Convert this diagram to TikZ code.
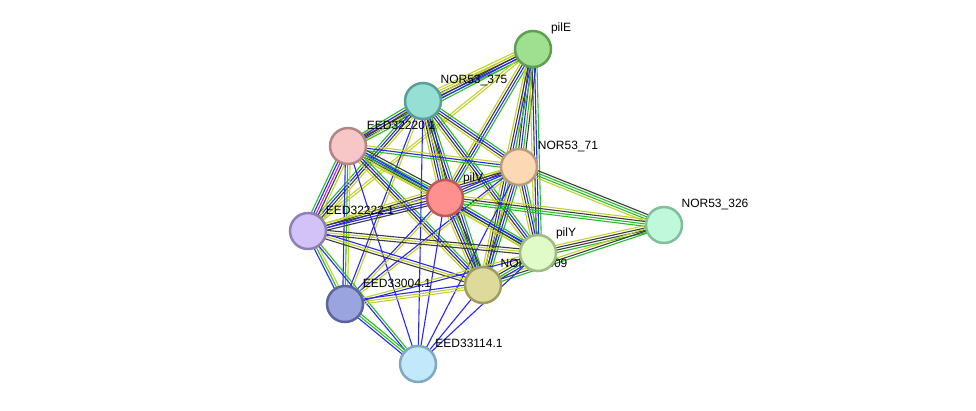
\documentclass[tikz,border=0pt]{standalone}
\usepackage{fontspec}
\setmainfont{Liberation Sans}
\usetikzlibrary{calc,backgrounds}
\definecolor{cgreen}{RGB}{40,190,40}
\definecolor{cblue}{RGB}{40,40,240}
\definecolor{cgray}{RGB}{60,60,60}
\definecolor{cyel}{RGB}{195,210,40}
\definecolor{cmag}{RGB}{210,30,210}
\tikzset{
  prot/.style={circle,minimum size=36pt,inner sep=0pt,line width=2.5pt},
  lbl/.style={font=\fontsize{12}{14}\selectfont,text=black,inner sep=0pt},
  ln/.style={line width=1.1pt}
}
\newcommand\edg[4]{%
  \foreach \cc [count=\ii] in {#4}{%
    \pgfmathsetmacro\off{(\ii-(#3+1)/2)*2.4}%
    \draw[ln,\cc] ($(#1)!\off pt!90:(#2)$) -- ($(#2)!\off pt!-90:(#1)$);
  }%
}
\begin{document}
\begin{tikzpicture}[x=1pt,y=-1pt]
\useasboundingbox (0,0) rectangle (976,410);
% nodes
\node[prot,draw={rgb,255:red,95;green,160;blue,80},fill={rgb,255:red,158;green,224;blue,144}] (A) at (533,49) {};
\node[lbl] (lA) at (561,28) {pilE};
\node[prot,draw={rgb,255:red,91;green,158;blue,152},fill={rgb,255:red,149;green,223;blue,213}] (B) at (423,101) {};
\node[lbl] (lB) at (474,80) {NOR53\_375};
\node[prot,draw={rgb,255:red,181;green,133;blue,133},fill={rgb,255:red,247;green,198;blue,198}] (C) at (348,146) {};
\node[lbl] (lC) at (401,125) {EED32220.1};
\node[prot,draw={rgb,255:red,184;green,156;blue,128},fill={rgb,255:red,253;green,216;blue,181}] (D) at (519,167) {};
\node[lbl] (lD) at (568,146) {NOR53\_71};
\node[prot,draw={rgb,255:red,192;green,88;blue,88},fill={rgb,255:red,255;green,144;blue,144}] (E) at (445,198) {};
\node[lbl] (lE) at (473,178) {pilV};
\node[prot,draw={rgb,255:red,142;green,128;blue,181},fill={rgb,255:red,210;green,194;blue,247}] (F) at (308,231) {};
\node[lbl] (lF) at (360,210) {EED32222.1};
\node[prot,draw={rgb,255:red,127;green,191;blue,154},fill={rgb,255:red,191;green,248;blue,218}] (G) at (664,225) {};
\node[lbl] (lG) at (715,204) {NOR53\_326};
\node[prot,draw={rgb,255:red,160;green,156;blue,92},fill={rgb,255:red,222;green,218;blue,156}] (I) at (483,285) {};
\node[lbl] (lI) at (534,264) {NOR53\_309};
\node[prot,draw={rgb,255:red,160;green,186;blue,136},fill={rgb,255:red,224;green,251;blue,200}] (H) at (538,253) {};
\node[lbl] (lH) at (566,233) {pilY};
\node[prot,draw={rgb,255:red,90;green,101;blue,159},fill={rgb,255:red,154;green,165;blue,224}] (J) at (345,304) {};
\node[lbl] (lJ) at (397,283) {EED33004.1};
\node[prot,draw={rgb,255:red,128;green,168;blue,192},fill={rgb,255:red,194;green,232;blue,251}] (K) at (418,364) {};
\node[lbl] (lK) at (469,343) {EED33114.1};
% edges
\begin{pgfonlayer}{background}
\fill[white] (0,0) rectangle (976,410);
\edg{A}{B}{5}{cyel,cyel,cgray,cblue,cgreen}
\edg{A}{C}{4}{cyel,cgray,cblue,cgreen}
\edg{A}{D}{5}{cyel,cgray,cblue,cgreen,cgray}
\edg{A}{E}{4}{cyel,cgray,cblue,cgreen}
\edg{A}{H}{4}{cyel,cgray,cblue,cgreen}
\edg{A}{I}{4}{cyel,cgray,cblue,cgreen}
\edg{A}{F}{2}{cyel,cyel}
\edg{B}{C}{4}{cgreen,cblue,cgray,cyel}
\edg{B}{D}{4}{cyel,cgray,cblue,cgreen}
\edg{B}{E}{5}{cyel,cgray,cblue,cgreen,cgray}
\edg{B}{F}{4}{cgreen,cblue,cgray,cyel}
\edg{B}{H}{4}{cyel,cgray,cblue,cgreen}
\edg{B}{I}{4}{cyel,cgray,cblue,cgreen}
\edg{B}{J}{2}{cblue,cyel}
\edg{B}{K}{1}{cblue}
\edg{C}{D}{3}{cgreen,cblue,cyel}
\edg{C}{E}{5}{cyel,cgray,cblue,cgreen,cgray}
\edg{C}{F}{5}{cgreen,cblue,cmag,cgray,cyel}
\edg{C}{H}{3}{cyel,cgreen,cblue}
\edg{C}{I}{4}{cyel,cgray,cblue,cgreen}
\edg{C}{J}{3}{cblue,cgreen,cyel}
\edg{C}{K}{1}{cblue}
\edg{D}{E}{4}{cyel,cgray,cblue,cgreen}
\edg{D}{F}{3}{cyel,cgray,cblue}
\edg{D}{G}{4}{cyel,cgreen,cgreen,cgray}
\edg{D}{H}{4}{cyel,cgray,cblue,cgreen}
\edg{D}{I}{4}{cyel,cgray,cblue,cgreen}
\edg{D}{J}{2}{cblue,cyel}
\edg{D}{K}{1}{cblue}
\edg{E}{F}{4}{cyel,cgray,cblue,cgray}
\edg{E}{G}{4}{cgreen,cgreen,cgray,cyel}
\edg{E}{H}{4}{cyel,cgray,cblue,cgreen}
\edg{E}{I}{5}{cyel,cgray,cblue,cgreen,cgray}
\edg{E}{J}{2}{cblue,cyel}
\edg{E}{K}{1}{cblue}
\edg{F}{H}{3}{cgray,cyel,cgray}
\edg{F}{I}{3}{cgray,cyel,cblue}
\edg{F}{J}{3}{cblue,cgreen,cyel}
\edg{F}{K}{2}{cblue,cgreen}
\edg{H}{G}{4}{cgreen,cgray,cgray,cyel}
\edg{I}{G}{3}{cgreen,cgray,cyel}
\edg{H}{I}{4}{cyel,cgray,cgreen,cblue}
\edg{I}{J}{3}{cblue,cyel,cyel}
\edg{I}{K}{1}{cblue}
\edg{J}{K}{3}{cblue,cgreen,cgreen}
\edg{H}{J}{2}{cyel,cblue}
\edg{H}{K}{1}{cblue}
\end{pgfonlayer}
\end{tikzpicture}
\end{document}
